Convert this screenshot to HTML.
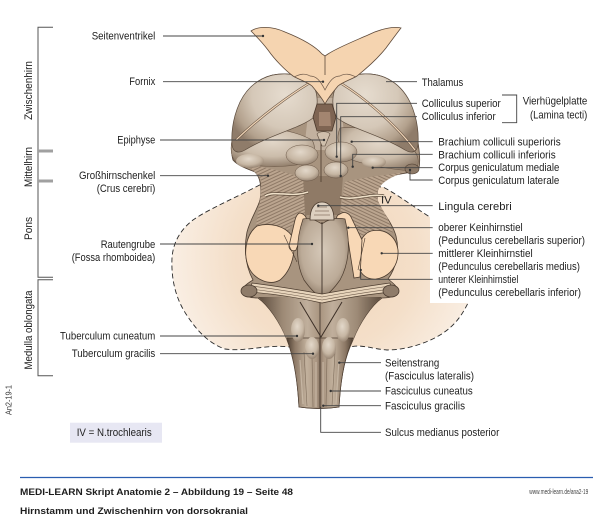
<!DOCTYPE html>
<html><head><meta charset="utf-8"><style>
html,body{margin:0;padding:0;background:#fff;}
svg{display:block;}
text{font-family:"Liberation Sans",Arial,sans-serif;fill:#1e1e1e;font-size:11px;}
.ln{stroke:#444;stroke-width:0.9;fill:none;}
</style></head><body>
<svg width="600" height="525" viewBox="0 0 600 525" xmlns="http://www.w3.org/2000/svg">
<defs>
<radialGradient id="cb" gradientUnits="userSpaceOnUse" cx="325" cy="258" r="185">
<stop offset="0" stop-color="#f0d3b6"/><stop offset="0.5" stop-color="#f4dfc9"/><stop offset="0.8" stop-color="#f9ede1"/><stop offset="1" stop-color="#fdf8f3"/>
</radialGradient>
<radialGradient id="lobeL" gradientUnits="userSpaceOnUse" cx="285" cy="95" r="60">
<stop offset="0" stop-color="#e6dccf"/><stop offset="0.55" stop-color="#d5c8b8"/><stop offset="0.85" stop-color="#b3a18d"/><stop offset="1" stop-color="#8f7c6a"/>
</radialGradient>
<radialGradient id="lobeR" gradientUnits="userSpaceOnUse" cx="365" cy="95" r="60">
<stop offset="0" stop-color="#e6dccf"/><stop offset="0.55" stop-color="#d5c8b8"/><stop offset="0.85" stop-color="#b3a18d"/><stop offset="1" stop-color="#8f7c6a"/>
</radialGradient>
<radialGradient id="bulge" cx="0.5" cy="0.35" r="0.65">
<stop offset="0" stop-color="#e2d7c9"/><stop offset="0.6" stop-color="#cbbcaa"/><stop offset="1" stop-color="#94816e"/>
</radialGradient>
<radialGradient id="bump" cx="0.45" cy="0.35" r="0.7">
<stop offset="0" stop-color="#e3d8ca"/><stop offset="0.6" stop-color="#c6b6a3"/><stop offset="1" stop-color="#8d7a68"/>
</radialGradient>
<radialGradient id="fossa" cx="0.5" cy="0.4" r="0.6">
<stop offset="0" stop-color="#d6c9b9"/><stop offset="0.7" stop-color="#bcab98"/><stop offset="1" stop-color="#8e7b68"/>
</radialGradient>
<linearGradient id="stemG" x1="0" x2="1" y1="0" y2="0">
<stop offset="0" stop-color="#4f4033"/><stop offset="0.12" stop-color="#8d7966"/><stop offset="0.3" stop-color="#c2b19d"/><stop offset="0.45" stop-color="#aa9682"/><stop offset="0.5" stop-color="#8a7664"/><stop offset="0.55" stop-color="#aa9682"/><stop offset="0.7" stop-color="#c2b19d"/><stop offset="0.88" stop-color="#8d7966"/><stop offset="1" stop-color="#4f4033"/>
</linearGradient>
<linearGradient id="medG" x1="0" x2="1" y1="0" y2="0">
<stop offset="0" stop-color="#5a4a3c"/><stop offset="0.2" stop-color="#9d8a76"/><stop offset="0.4" stop-color="#c0af9c"/><stop offset="0.5" stop-color="#a8947f"/><stop offset="0.6" stop-color="#c0af9c"/><stop offset="0.8" stop-color="#9d8a76"/><stop offset="1" stop-color="#5a4a3c"/>
</linearGradient>
<pattern id="strL" width="3" height="3" patternUnits="userSpaceOnUse" patternTransform="rotate(65)">
<rect width="3" height="3" fill="#bba58f"/><line x1="0.5" y1="0" x2="0.5" y2="3" stroke="#836e5b" stroke-width="0.8"/>
</pattern>
<pattern id="strR" width="3" height="3" patternUnits="userSpaceOnUse" patternTransform="rotate(-65)">
<rect width="3" height="3" fill="#bba58f"/><line x1="0.5" y1="0" x2="0.5" y2="3" stroke="#836e5b" stroke-width="0.8"/>
</pattern>
</defs>

<!-- cerebellum background -->
<path d="M267,181 C240,196 210,208 193,220 C180,230 173,243 172,258 C171,280 176,300 188,317 C198,332 210,344 225,349 C245,352 268,344 290,347 L350,347 C362,344 372,349 387,350 C405,350 425,344 440,335 C455,326 462,315 468,303 C485,290 498,265 497,245 C495,228 470,222 433,219 C415,208 400,196 383,187 Z" fill="url(#cb)" stroke="#2a2a2a" stroke-width="0.9" stroke-dasharray="5,3"/>
<rect x="430" y="217" width="170" height="86" fill="#fff"/>

<!-- brain base silhouette -->
<path d="M262,79 C250,86 243,98 238,112 C232,130 230,150 233,160 C238,166 248,169 255,172 C261,178 262,190 260,200 C257,210 250,220 247,232 C244,248 245,265 253,280 C248,283 242,287 242,291 C242,296 250,298 258,298 C268,305 280,322 287,340 C293,355 297,372 299,407 Q319,410 339,407 C341,372 346,355 353,340 C360,322 372,305 382,298 C390,298 398,296 398,291 C398,287 393,283 388,279 C396,268 400,252 396,236 C392,222 382,212 378,203 C375,192 378,182 392,176 C402,173 414,173 419,168 C421,158 418,138 412,115 C407,98 400,86 388,79 C375,72 355,72 342,80 L325,100 L308,80 C295,72 275,72 262,79 Z" fill="#a8947f" stroke="#4f3f32" stroke-width="0.8"/>

<!-- striated midbrain regions -->
<path d="M245,163 C262,168 285,170 305,180 L308,215 C300,218 292,222 288,232 C280,225 268,222 256,226 C258,210 262,195 261,180 C256,172 250,168 245,163 Z" fill="url(#strL)"/>
<path d="M405,172 C390,175 370,176 345,182 L340,212 C345,214 352,222 360,240 C365,232 372,230 382,230 L393,233 C390,218 380,208 377,198 C376,188 382,180 405,172 Z" fill="url(#strR)"/>
<path d="M303,176 L343,176 L340,215 L305,215 Z" fill="#8f7a66"/>

<!-- spinal cord / medulla -->
<path d="M258,297 C268,305 279,320 287,340 L353,340 C361,320 372,305 382,297 Z" fill="url(#medG)"/>
<path d="M287,338 C292,355 297,372 299,407 Q319,410 339,407 C341,372 346,355 353,338 Z" fill="url(#stemG)" stroke="#4f3f32" stroke-width="0.7"/>
<g stroke="#6f5d4c" stroke-width="0.6" fill="none" opacity="0.8">
<path d="M304,352 L307,406"/><path d="M312,356 L313,407"/><path d="M327,356 L326,407"/><path d="M335,352 L332,406"/>
</g>
<g stroke="#d2c3b1" stroke-width="1.2" fill="none" opacity="0.7">
<path d="M300,360 L303,404"/><path d="M316,362 L316,407"/><path d="M323,362 L323,407"/><path d="M339,360 L336,404"/>
</g>
<path d="M320,340 L320,408" stroke="#4a3b2f" stroke-width="0.9"/>
<ellipse cx="298" cy="330" rx="7" ry="12" fill="url(#bump)"/>
<ellipse cx="343" cy="330" rx="7" ry="12" fill="url(#bump)"/>
<ellipse cx="312" cy="348" rx="7" ry="11" fill="url(#bump)"/>
<ellipse cx="329" cy="348" rx="7" ry="11" fill="url(#bump)"/>
<path d="M300,302 L321,337 L342,302" stroke="#3d3027" stroke-width="1" fill="none"/>
<path d="M320,300 L320,340" stroke="#3d3027" stroke-width="0.8"/>

<!-- pons: peach ovals and strips -->
<path d="M257,226 C270,222 285,226 292,236 C297,250 292,270 280,280 C270,286 255,280 249,268 C243,255 245,235 257,226 Z" fill="#f8d8b6" stroke="#4b3b2e" stroke-width="0.8"/>
<path d="M371,231 C385,228 396,236 398,250 C399,265 390,277 376,279 C365,280 358,272 357,260 C357,245 362,234 371,231 Z" fill="#f8d8b6" stroke="#4b3b2e" stroke-width="0.8"/>
<path d="M300,213 C305,214 308,218 306,224 L296,250 C293,252 289,250 289,246 L295,220 C296,216 298,213 300,213 Z" fill="#f8d8b6" stroke="#4b3b2e" stroke-width="0.8"/>
<path d="M340,214 C344,211 349,213 351,217 L362,240 L360,277 L354,278 L348,240 L337,220 C336,217 337,215 340,214 Z" fill="#f8d8b6" stroke="#4b3b2e" stroke-width="0.8"/>
<path d="M284,235 L297,262" stroke="#4b3b2e" stroke-width="0.6"/>
<path d="M365,238 L358,270" stroke="#4b3b2e" stroke-width="0.6"/>

<!-- rhomboid fossa -->
<path d="M303,219 C312,217 318,222 322,224 C327,220 335,217 345,219 C350,240 350,262 340,280 C333,290 326,296 322,299 C318,296 311,290 304,280 C295,262 296,240 303,219 Z" fill="url(#fossa)" stroke="#4b3b2e" stroke-width="0.7"/>
<path d="M322,222 L322,299" stroke="#3d3027" stroke-width="0.9"/>

<!-- lingula -->
<path d="M310,220 C310,208 315,202 322,202 C329,202 334,208 334,220 Z" fill="#ddd0c0" stroke="#4b3b2e" stroke-width="0.8"/>
<path d="M314,215 L330,215 M315,211 L329,211 M317,207 L327,207" stroke="#8a7765" stroke-width="0.7"/>

<!-- flare / striae -->
<path d="M252,283 C275,286 300,290 322,294 C344,290 368,286 390,283 L392,292 C370,294 345,298 322,303 C300,298 275,294 250,292 Z" fill="#e7d4bb" stroke="#4b3b2e" stroke-width="0.7"/>
<g stroke="#6b5848" stroke-width="0.6" fill="none">
<path d="M252,286 C275,289 300,293 322,297 C344,293 368,289 390,286"/>
<path d="M251,289 C275,292 300,296 322,300 C344,296 368,292 391,289"/>
</g>
<ellipse cx="249" cy="291" rx="8" ry="6" fill="#8f7c6a" stroke="#4a3b2f" stroke-width="0.8"/>
<ellipse cx="391" cy="291" rx="8" ry="6" fill="#8f7c6a" stroke="#4a3b2f" stroke-width="0.8"/>

<!-- trochlear nerves -->
<path d="M265,196 C275,190 290,198 308,192" stroke="#5a4838" stroke-width="3" fill="none"/>
<path d="M265,196 C275,190 290,198 308,192" stroke="#efe0c8" stroke-width="1.6" fill="none"/>
<path d="M340,197 C355,201 370,193 384,196" stroke="#5a4838" stroke-width="3" fill="none"/>
<path d="M340,197 C355,201 370,193 384,196" stroke="#efe0c8" stroke-width="1.6" fill="none"/>

<!-- center region light tissue -->
<path d="M310,98 L340,98 L346,150 L304,150 Z" fill="#c2b19f"/>

<!-- lower thalamus bulges -->
<path d="M236,132 C255,125 290,128 312,140 C318,150 312,162 296,165 C275,168 250,166 236,162 C229,156 230,140 236,132 Z" fill="url(#bulge)" stroke="#6a5747" stroke-width="0.6"/>
<path d="M340,128 C360,125 395,135 412,148 C420,156 420,166 414,171 C395,170 370,166 352,160 C340,155 335,140 340,128 Z" fill="url(#bulge)" stroke="#6a5747" stroke-width="0.6"/>
<ellipse cx="250" cy="161" rx="14" ry="7" fill="url(#bump)"/>
<ellipse cx="374" cy="162" rx="12" ry="6" fill="url(#bump)"/>
<ellipse cx="412" cy="169" rx="7" ry="5" fill="#8c7967" stroke="#4f3f32" stroke-width="0.6"/>

<!-- colliculi -->
<ellipse cx="302" cy="155" rx="16" ry="10" fill="url(#bump)" stroke="#6a5747" stroke-width="0.5"/>
<ellipse cx="341" cy="152" rx="16" ry="10" fill="url(#bump)" stroke="#6a5747" stroke-width="0.5"/>
<ellipse cx="307" cy="173" rx="12" ry="8" fill="url(#bump)" stroke="#6a5747" stroke-width="0.5"/>
<ellipse cx="336" cy="170" rx="12" ry="8" fill="url(#bump)" stroke="#6a5747" stroke-width="0.5"/>
<path d="M321,143 L321,182" stroke="#5a4838" stroke-width="1"/>

<!-- upper thalamus lobes -->
<path d="M262,79 C275,72 295,72 308,80 C318,87 320,105 313,118 C300,128 270,135 245,150 C238,154 233,152 232,145 C231,130 234,115 240,102 C245,92 252,84 262,79 Z" fill="url(#lobeL)" stroke="#5a4a3c" stroke-width="0.7"/>
<path d="M388,79 C375,72 355,72 342,80 C332,87 330,105 337,118 C350,128 380,135 405,150 C412,154 417,152 418,145 C419,130 416,115 410,102 C405,92 398,84 388,79 Z" fill="url(#lobeR)" stroke="#5a4a3c" stroke-width="0.7"/>
<path d="M308,84 C290,95 262,115 236,140" stroke="#6b5747" stroke-width="2.4" fill="none"/>
<path d="M308,84 C290,95 262,115 236,140" stroke="#f2d7b9" stroke-width="1.2" fill="none"/>
<path d="M342,84 C360,95 392,120 415,150" stroke="#6b5747" stroke-width="2.4" fill="none"/>
<path d="M342,84 C360,95 392,120 415,150" stroke="#f2d7b9" stroke-width="1.2" fill="none"/>

<!-- third ventricle, pineal -->
<path d="M317,104 L332,104 L336,117 L332,131 L317,131 L313,117 Z" fill="#7e6452" stroke="#4a382b" stroke-width="0.8"/>
<path d="M319,112 L330,112 L331,126 L319,126 Z" fill="#a38570"/>
<path d="M317,134 C319,131 328,131 330,134 L325,146 L322,146 Z" fill="#cfbfac" stroke="#5a4a3c" stroke-width="0.6"/>

<!-- ventricles + fornix -->
<path d="M251,31 C258,26 272,26 285,32 C300,38 315,46 322,54 L325,56 L328,54 C337,48 352,42 368,35 C380,29 394,26 401,28 C397,33 392,40 386,48 C378,58 367,68 357,76 C350,80 343,82 338,86 C333,92 328,98 325,104 C322,98 317,92 312,86 C307,82 300,80 293,76 C285,70 275,60 268,50 C262,42 256,36 251,31 Z" fill="#f5d4b0" stroke="#5e4a3a" stroke-width="0.8"/>
<path d="M325,56 L325,75" stroke="#5e4a3a" stroke-width="0.8"/>
<path d="M294,77 C300,74 305,73 310,76 C316,76 320,80 325,90 C330,80 334,76 340,76 C345,73 350,74 356,77" stroke="#6e5949" stroke-width="0.7" fill="none"/>

<!-- left brackets -->
<g stroke="#555" stroke-width="1" fill="none">
<path d="M53,27.3 L38,27.3 L38,277.3 L53,277.3"/>
<path d="M53,279.7 L38,279.7 L38,375.7 L53,375.7"/>
</g>
<rect x="38" y="149.5" width="15" height="3" fill="#a0a0a0"/>
<rect x="38" y="179.5" width="15" height="3" fill="#a0a0a0"/>
<text transform="translate(32,90.5) rotate(-90)" text-anchor="middle" textLength="59" lengthAdjust="spacingAndGlyphs">Zwischenhirn</text>
<text transform="translate(32,167) rotate(-90)" text-anchor="middle" textLength="40" lengthAdjust="spacingAndGlyphs">Mittelhirn</text>
<text transform="translate(32,228.5) rotate(-90)" text-anchor="middle" textLength="23" lengthAdjust="spacingAndGlyphs">Pons</text>
<text transform="translate(32,330) rotate(-90)" text-anchor="middle" textLength="79" lengthAdjust="spacingAndGlyphs">Medulla oblongata</text>
<text transform="translate(11.5,400) rotate(-90)" text-anchor="middle" textLength="30" lengthAdjust="spacingAndGlyphs" style="font-size:8px;fill:#333">An2-19-1</text>

<!-- label lines -->
<g class="ln">
<path d="M163,36 L263,36"/>
<path d="M163,81.7 L323,81.7"/>
<path d="M160,140 L324,140"/>
<path d="M160,175.7 L268,175.7"/>
<path d="M160,244 L312,244"/>
<path d="M160,336 L297,336"/>
<path d="M160,353.7 L313,353.7"/>
<path d="M417,81.7 L386,81.7"/>
<path d="M417,103.3 L336.7,103.3 L336.7,156.7"/>
<path d="M417,116.7 L340.7,116.7 L340.7,176"/>
<path d="M502,95 L516.7,95 L516.7,122.7 L502,122.7"/>
<path d="M432.7,141.7 L351.7,141.7"/>
<path d="M432.7,154.3 L352.7,154.3 L352.7,166.7"/>
<path d="M432.7,167.7 L372.7,167.7"/>
<path d="M432.7,180 L410,180 L410,170"/>
<path d="M432.7,205.7 L318.3,205.7"/>
<path d="M432.7,227.7 L348.3,227.7"/>
<path d="M432.7,253.3 L381.7,253.3"/>
<path d="M432.7,279.3 L360.7,279.3 L360.7,270"/>
<path d="M381,362.7 L339.3,362.7"/>
<path d="M381,391 L330.7,391"/>
<path d="M381,405.7 L323.3,405.7"/>
<path d="M381,432.3 L320.7,432.3 L320.7,406.7"/>
</g>
<g fill="#333">
<circle cx="263" cy="36" r="1.2"/><circle cx="323" cy="81.7" r="1.2"/><circle cx="324" cy="140" r="1.2"/><circle cx="268" cy="175.7" r="1.2"/><circle cx="312" cy="244" r="1.2"/><circle cx="297" cy="336" r="1.2"/><circle cx="313" cy="353.7" r="1.2"/><circle cx="336.7" cy="156.7" r="1.2"/><circle cx="340.7" cy="176" r="1.2"/><circle cx="351.7" cy="141.7" r="1.2"/><circle cx="352.7" cy="166.7" r="1.2"/><circle cx="372.7" cy="167.7" r="1.2"/><circle cx="410" cy="170" r="1.2"/><circle cx="318.3" cy="205.7" r="1.2"/><circle cx="348.3" cy="227.7" r="1.2"/><circle cx="381.7" cy="253.3" r="1.2"/><circle cx="360.7" cy="270" r="1.2"/><circle cx="339.3" cy="362.7" r="1.2"/><circle cx="330.7" cy="391" r="1.2"/><circle cx="323.3" cy="405.7" r="1.2"/>
</g>

<!-- left labels -->
<text x="91.7" y="39.5" textLength="63.6" lengthAdjust="spacingAndGlyphs">Seitenventrikel</text>
<text x="129.3" y="85" textLength="26" lengthAdjust="spacingAndGlyphs">Fornix</text>
<text x="117.3" y="143.5" textLength="38" lengthAdjust="spacingAndGlyphs">Epiphyse</text>
<text x="79" y="179" textLength="76.3" lengthAdjust="spacingAndGlyphs">Großhirnschenkel</text>
<text x="96.7" y="192" textLength="58.6" lengthAdjust="spacingAndGlyphs">(Crus cerebri)</text>
<text x="100.7" y="248" textLength="54.6" lengthAdjust="spacingAndGlyphs">Rautengrube</text>
<text x="71.7" y="261" textLength="83.6" lengthAdjust="spacingAndGlyphs">(Fossa rhomboidea)</text>
<text x="60" y="339.5" textLength="95.3" lengthAdjust="spacingAndGlyphs">Tuberculum cuneatum</text>
<text x="71.7" y="357" textLength="83.6" lengthAdjust="spacingAndGlyphs">Tuberculum gracilis</text>

<!-- right labels -->
<text x="421.7" y="86" textLength="41.6" lengthAdjust="spacingAndGlyphs">Thalamus</text>
<text x="421.7" y="107" textLength="79" lengthAdjust="spacingAndGlyphs">Colliculus superior</text>
<text x="421.7" y="120" textLength="74" lengthAdjust="spacingAndGlyphs">Colliculus inferior</text>
<text x="522.7" y="104.5" textLength="64.6" lengthAdjust="spacingAndGlyphs">Vierhügelplatte</text>
<text x="530" y="118.5" textLength="57.3" lengthAdjust="spacingAndGlyphs">(Lamina tecti)</text>
<text x="438.3" y="145.5" textLength="122.4" lengthAdjust="spacingAndGlyphs">Brachium colliculi superioris</text>
<text x="438.3" y="158.5" textLength="117.4" lengthAdjust="spacingAndGlyphs">Brachium colliculi inferioris</text>
<text x="438.3" y="171" textLength="121" lengthAdjust="spacingAndGlyphs">Corpus geniculatum mediale</text>
<text x="438.3" y="184" textLength="121" lengthAdjust="spacingAndGlyphs">Corpus geniculatum laterale</text>
<text x="381" y="203.5" textLength="10.7" lengthAdjust="spacingAndGlyphs">IV</text>
<text x="438.3" y="210" textLength="73.4" lengthAdjust="spacingAndGlyphs">Lingula cerebri</text>
<text x="438.3" y="231" textLength="84.4" lengthAdjust="spacingAndGlyphs">oberer Keinhirnstiel</text>
<text x="438.3" y="244" textLength="146.7" lengthAdjust="spacingAndGlyphs">(Pedunculus cerebellaris superior)</text>
<text x="438.3" y="257" textLength="94.4" lengthAdjust="spacingAndGlyphs">mittlerer Kleinhirnstiel</text>
<text x="438.3" y="270" textLength="141.7" lengthAdjust="spacingAndGlyphs">(Pedunculus cerebellaris medius)</text>
<text x="438.3" y="283" textLength="80" lengthAdjust="spacingAndGlyphs">unterer Kleinhirnstiel</text>
<text x="438.3" y="296" textLength="142.7" lengthAdjust="spacingAndGlyphs">(Pedunculus cerebellaris inferior)</text>
<text x="385" y="366.5" textLength="54.3" lengthAdjust="spacingAndGlyphs">Seitenstrang</text>
<text x="385" y="379.5" textLength="89" lengthAdjust="spacingAndGlyphs">(Fasciculus lateralis)</text>
<text x="385" y="394.5" textLength="87.7" lengthAdjust="spacingAndGlyphs">Fasciculus cuneatus</text>
<text x="385" y="409.5" textLength="80" lengthAdjust="spacingAndGlyphs">Fasciculus gracilis</text>
<text x="385" y="436" textLength="114.3" lengthAdjust="spacingAndGlyphs">Sulcus medianus posterior</text>

<!-- legend box -->
<rect x="70" y="422.7" width="92" height="20" fill="#e7e7f3"/>
<text x="76.7" y="436" textLength="75" lengthAdjust="spacingAndGlyphs">IV = N.trochlearis</text>

<!-- footer -->
<line x1="20" y1="477.5" x2="593" y2="477.5" stroke="#2a5db0" stroke-width="1.3"/>
<text x="20" y="495" textLength="273" lengthAdjust="spacingAndGlyphs" style="font-size:9px;font-weight:bold;fill:#1e1e1e">MEDI-LEARN Skript Anatomie 2 – Abbildung 19 – Seite 48</text>
<text x="20" y="514" textLength="228" lengthAdjust="spacingAndGlyphs" style="font-size:9px;font-weight:bold;fill:#1e1e1e">Hirnstamm und Zwischenhirn von dorsokranial</text>
<text x="529.3" y="494" textLength="59" lengthAdjust="spacingAndGlyphs" style="font-size:7.5px;fill:#444">www.medi-learn.de/ana2-19</text>
</svg>
</body></html>
